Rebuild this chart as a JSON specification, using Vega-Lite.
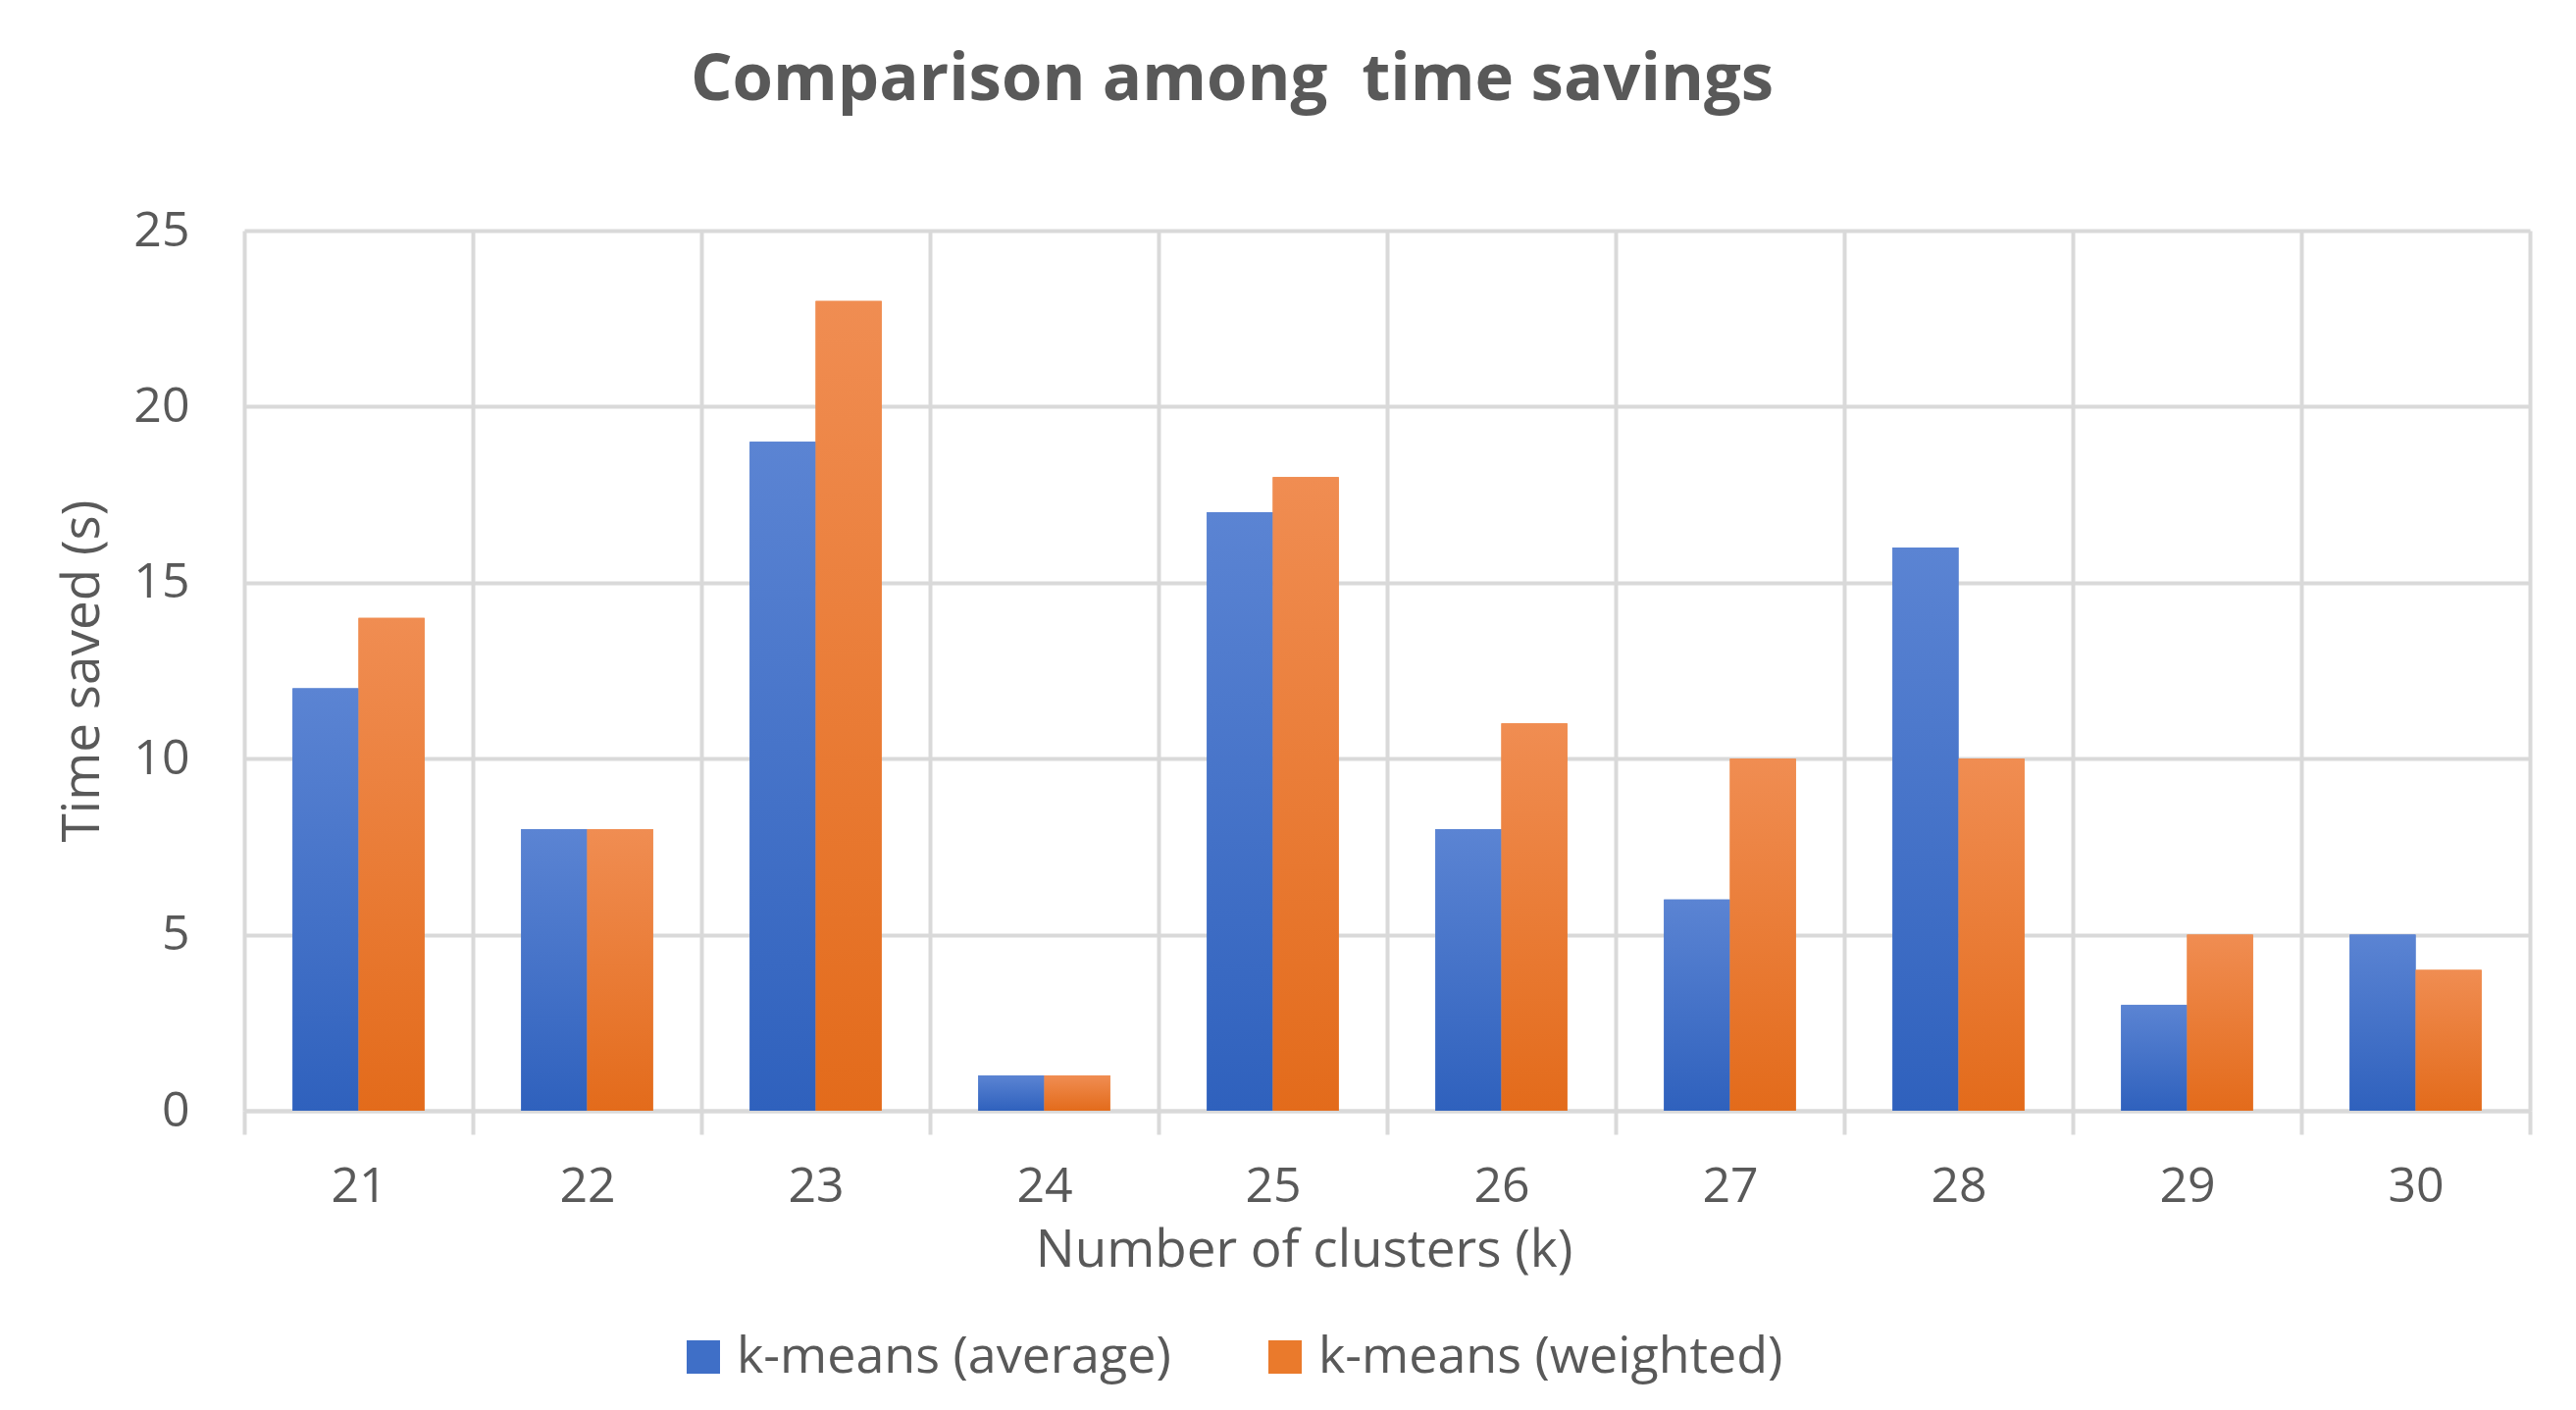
{
  "$schema": "https://vega.github.io/schema/vega-lite/v6.json",
  "width": 2330,
  "height": 897,
  "autosize": "none",
  "padding": {"left": 249, "top": 235, "right": 47, "bottom": 305},
  "background": "white",
  "config": {
    "font": "Open Sans",
    "view": {"stroke": null}
  },
  "title": {
    "text": "Comparison among\u00a0 time savings",
    "fontSize": 67,
    "fontWeight": "bold",
    "color": "#595959",
    "anchor": "middle",
    "dx": -158,
    "offset": 94
  },
  "data": {
    "values": [
      {"k": "21", "series": "k-means (average)", "value": 12},
      {"k": "21", "series": "k-means (weighted)", "value": 14},
      {"k": "22", "series": "k-means (average)", "value": 8},
      {"k": "22", "series": "k-means (weighted)", "value": 8},
      {"k": "23", "series": "k-means (average)", "value": 19},
      {"k": "23", "series": "k-means (weighted)", "value": 23},
      {"k": "24", "series": "k-means (average)", "value": 1},
      {"k": "24", "series": "k-means (weighted)", "value": 1},
      {"k": "25", "series": "k-means (average)", "value": 17},
      {"k": "25", "series": "k-means (weighted)", "value": 18},
      {"k": "26", "series": "k-means (average)", "value": 8},
      {"k": "26", "series": "k-means (weighted)", "value": 11},
      {"k": "27", "series": "k-means (average)", "value": 6},
      {"k": "27", "series": "k-means (weighted)", "value": 10},
      {"k": "28", "series": "k-means (average)", "value": 16},
      {"k": "28", "series": "k-means (weighted)", "value": 10},
      {"k": "29", "series": "k-means (average)", "value": 3},
      {"k": "29", "series": "k-means (weighted)", "value": 5},
      {"k": "30", "series": "k-means (average)", "value": 5},
      {"k": "30", "series": "k-means (weighted)", "value": 4}
    ]
  },
  "encoding": {
    "x": {
      "field": "k",
      "type": "nominal",
      "scale": {"paddingInner": 0, "paddingOuter": 0},
      "axis": {
        "title": "Number of clusters (k)",
        "titleFontSize": 53,
        "titleFontWeight": "normal",
        "titleColor": "#595959",
        "titlePadding": 14,
        "titleX": 1080,
        "labelAngle": 0,
        "labelFontSize": 50,
        "labelColor": "#595959",
        "labelPadding": 28,
        "tickBand": "extent",
        "grid": true,
        "gridColor": "#d9d9d9",
        "gridWidth": 4,
        "domainColor": "#d9d9d9",
        "domainWidth": 4,
        "tickColor": "#d9d9d9",
        "tickWidth": 4,
        "tickSize": 24
      }
    },
    "xOffset": {
      "field": "series",
      "type": "nominal",
      "scale": {"paddingInner": 0, "paddingOuter": 0.733}
    },
    "y": {
      "field": "value",
      "type": "quantitative",
      "scale": {"domain": [0, 25], "nice": false},
      "axis": {
        "title": "Time saved (s)",
        "titleFontSize": 53,
        "titleFontWeight": "normal",
        "titleColor": "#595959",
        "titlePadding": 24,
        "values": [0, 5, 10, 15, 20, 25],
        "labelFontSize": 50,
        "labelColor": "#595959",
        "labelPadding": 56,
        "domain": false,
        "ticks": false,
        "grid": true,
        "gridColor": "#d9d9d9",
        "gridWidth": 4
      }
    }
  },
  "layer": [
    {
      "mark": {"type": "bar"},
      "encoding": {
        "color": {
          "field": "series",
          "type": "nominal",
          "scale": {"range": ["#3f6fc7", "#ea7a2c"]},
          "legend": {
            "title": null,
            "orient": "none",
            "legendX": 442,
            "legendY": 1122,
            "direction": "horizontal",
            "symbolType": "square",
            "symbolSize": 1156,
            "symbolStrokeWidth": 0,
            "labelFontSize": 52,
            "labelColor": "#595959",
            "labelOffset": 8,
            "labelLimit": 0,
            "columnPadding": 90
          }
        }
      }
    },
    {
      "transform": [{"filter": "datum.series === 'k-means (average)'"}],
      "mark": {
        "type": "bar",
        "fill": {
          "gradient": "linear",
          "x1": 0, "y1": 0, "x2": 0, "y2": 1,
          "stops": [
            {"offset": 0, "color": "#5b84d3"},
            {"offset": 1, "color": "#2f61bd"}
          ]
        }
      },
      "encoding": {}
    },
    {
      "transform": [{"filter": "datum.series === 'k-means (weighted)'"}],
      "mark": {
        "type": "bar",
        "fill": {
          "gradient": "linear",
          "x1": 0, "y1": 0, "x2": 0, "y2": 1,
          "stops": [
            {"offset": 0, "color": "#f08d52"},
            {"offset": 1, "color": "#e36b1b"}
          ]
        }
      },
      "encoding": {}
    }
  ]
}
